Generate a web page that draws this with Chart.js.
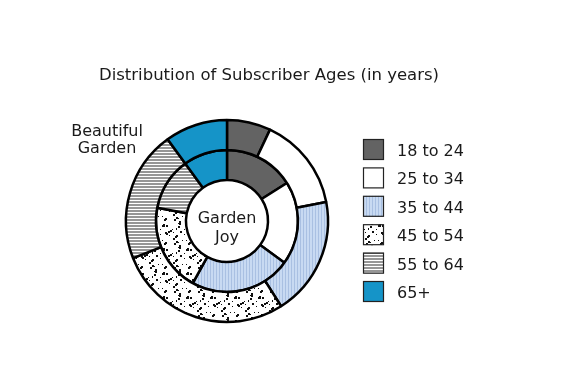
<!DOCTYPE html>
<html>
<head>
<meta charset="utf-8">
<script src="https://cdn.jsdelivr.net/npm/chart.js@4.4.1/dist/chart.umd.min.js"></script>
<style>
    html, body { margin: 0; padding: 0; background: #fff; }
    #wrap { width: 567px; height: 379px; }
</style>
</head>
<body>
<div id="wrap"><canvas id="agesChart" width="567" height="379"></canvas></div>
<script>
const chartTitle = 'Distribution of Subscriber Ages (in years)';
const ageGroups = ['18 to 24', '25 to 34', '35 to 44', '45 to 54', '55 to 64', '65+'];
const magazineNames = ['Beautiful Garden', 'Garden Joy'];
// outer ring
const beautifulGarden = [7, 15, 19, 28, 21, 10];
// inner ring
const gardenJoy = [16, 19, 23, 20, 12, 10];

const FONT = '"DejaVu Sans", Verdana, sans-serif';

// small tiles used as fills
const makeTile = (w, h, paint) => {
    const c = document.createElement('canvas');
    c.width = w;
    c.height = h;
    const g = c.getContext('2d');
    paint(g);
    return document.getElementById('agesChart').getContext('2d').createPattern(c, 'repeat');
};

const blueStripes = makeTile(3, 3, g => {
    g.fillStyle = '#c8daf2';
    g.fillRect(0, 0, 3, 3);
    g.fillStyle = '#a9c0e2';
    g.fillRect(0, 0, 1, 3);
});

const speckles = makeTile(24, 24, g => {
    g.fillStyle = '#fff';
    g.fillRect(0, 0, 24, 24);
    g.fillStyle = '#111';
    let seed = 11;
    const next = () => { seed = (seed * 16807) % 2147483647; return seed / 2147483647; };
    for (let i = 0; i < 34; i++) {
        const s = next() < 0.45 ? 1 : 2;
        g.fillRect(Math.floor(next() * 23), Math.floor(next() * 23), s, s);
    }
});

const greyLines = makeTile(3, 3, g => {
    g.fillStyle = '#fff';
    g.fillRect(0, 0, 3, 3);
    g.fillStyle = '#969696';
    g.fillRect(0, 0, 3, 2);
});

const fills = ['#636363', '#ffffff', blueStripes, speckles, greyLines, '#1594c8'];

const textPlugin = {
    id: 'textPlugin',
    afterDraw(chart) {
        const ctx = chart.ctx;
        ctx.save();
        ctx.fillStyle = '#1a1a1a';
        ctx.textAlign = 'center';
        ctx.textBaseline = 'alphabetic';

        ctx.font = '16.5px ' + FONT;
        ctx.fillText(chartTitle, 269, 80);

        ctx.font = '16px ' + FONT;
        const outerName = magazineNames[0].split(' ');
        ctx.fillText(outerName[0], 107, 136);
        ctx.fillText(outerName[1], 107, 153);

        const innerName = magazineNames[1].split(' ');
        ctx.fillText(innerName[0], 227, 223);
        ctx.fillText(innerName[1], 227, 242);

        // legend
        ctx.textAlign = 'left';
        chart.data.labels.forEach((label, i) => {
            const top = 139 + i * 28.4;
            ctx.fillStyle = chart.data.datasets[0].backgroundColor[i];
            ctx.fillRect(363, top, 21, 21);
            ctx.strokeStyle = '#222';
            ctx.lineWidth = 1.2;
            ctx.strokeRect(363.5, top + 0.5, 20, 20);
            ctx.fillStyle = '#1a1a1a';
            ctx.fillText(label, 397, top + 17);
        });
        ctx.restore();
    }
};

const agesChart = new Chart(document.getElementById('agesChart'), {
    type: 'doughnut',
    data: {
        labels: ageGroups,
        datasets: [
            {
                label: magazineNames[0],
                data: beautifulGarden,
                backgroundColor: fills,
                borderColor: '#000',
                borderWidth: 2.5
            },
            {
                label: magazineNames[1],
                data: gardenJoy,
                backgroundColor: fills,
                borderColor: '#000',
                borderWidth: 2.5
            }
        ]
    },
    options: {
        responsive: false,
        animation: false,
        radius: 101,
        cutout: '40.6%',
        layout: {
            padding: { left: 0, right: 113, top: 63, bottom: 0 }
        },
        plugins: {
            legend: { display: false },
            title: { display: false },
            tooltip: { enabled: false }
        }
    },
    plugins: [textPlugin]
});
</script>
</body>
</html>
